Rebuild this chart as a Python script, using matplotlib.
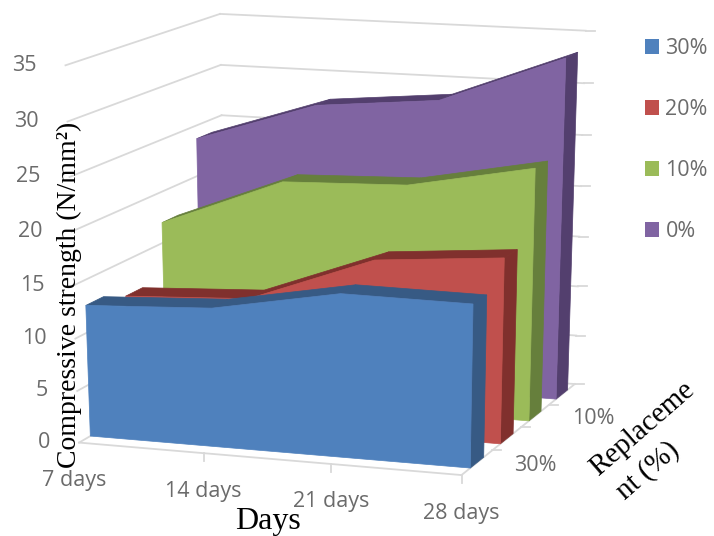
import numpy as np
import matplotlib
matplotlib.use('Agg')
import matplotlib.pyplot as plt
from matplotlib.patches import Polygon, Patch

days = ['7 days', '14 days', '21 days', '28 days']
value_ticks = [0, 5, 10, 15, 20, 25, 30, 35]
depth_labels = ['30%', '', '10%', '']

strength_30 = [12.6, 13.2, 15.4, 15.3]
strength_20 = [11.6, 12.2, 16.7, 17.7]
strength_10 = [17.0, 21.7, 22.1, 24.4]
strength_0 = [23.7, 27.6, 28.7, 33.3]

# back to front
series = [('0%', strength_0, '#8064A2', '#533F6E', 3),
          ('10%', strength_10, '#9BBB59', '#667F3C', 2),
          ('20%', strength_20, '#C0504D', '#80302D', 1),
          ('30%', strength_30, '#4F81BD', '#375A84', 0)]

# floor and wall corners: (day, depth, value) -> pixel position
corners = [((0, 0, 0), (80, 440)), ((3, 0, 0), (462, 477)),
           ((3, 4, 0), (575, 382)), ((3, 4, 35), (585, 31)),
           ((0, 4, 35), (222, 13)), ((0, 0, 35), (64, 66)),
           ((0, 4, 0), (224, 360))]


def fit_camera(pairs):
    rows = []
    for (x, y, z), (u, v) in pairs:
        rows.append([x, y, z, 1, 0, 0, 0, 0, -u*x, -u*y, -u*z, -u])
        rows.append([0, 0, 0, 0, x, y, z, 1, -v*x, -v*y, -v*z, -v])
    return np.linalg.svd(np.array(rows, dtype=float))[2][-1].reshape(3, 4)


cam = fit_camera(corners)


def project(x, y, z):
    p = cam @ np.array([x, y, z, 1.0])
    return p[0]/p[2], p[1]/p[2]


fig = plt.figure(figsize=(7.14, 5.36), dpi=100)
ax = fig.add_axes([0, 0, 1, 1])
ax.set_xlim(0, 714)
ax.set_ylim(536, 0)
ax.axis('off')

grid = '#D9D9D9'
label_color = '#6B6B6B'
label_size = 15.5


def line3d(a, b):
    pa, pb = project(*a), project(*b)
    ax.plot([pa[0], pb[0]], [pa[1], pb[1]], color=grid, lw=1.3, zorder=1)


# walls and floor
for v in value_ticks:
    line3d((0, 0, v), (0, 4, v))
    line3d((0, 4, v), (3, 4, v))
    px, py = project(3, 4, v)
    ax.plot([px, px + 9], [py, py], color=grid, lw=1.3, zorder=1)
line3d((0, 0, 0), (3, 0, 0))
line3d((3, 0, 0), (3, 4, 0))

for i in range(4):
    px, py = project(i, 0, 0)
    if i > 0:
        ax.plot([px, px], [py, py + 8], color=grid, lw=1.3, zorder=1)
    ax.text(px + (-5 if i == 0 else 0), py + 38, days[i], fontsize=label_size, color=label_color,
            family='Open Sans', ha='center', va='center')

for d in range(1, 4):
    px, py = project(3, d, 0)
    ax.plot([px, px + 9], [py, py], color=grid, lw=1.3, zorder=1)

for d, lab in enumerate(depth_labels):
    if lab:
        px, py = project(3, d + 0.5, 0)
        ax.text(px + 58, py + 3, lab, fontsize=label_size, color=label_color, family='Open Sans',
                ha='center', va='center')

for v in value_ticks:
    px, py = project(0, 0, v)
    ax.text(px - 29, py, str(v), fontsize=label_size, color=label_color, family='Open Sans',
            ha='right', va='center')

# one slab per replacement level
z = 2
for name, vals, face, dark, slot in series:
    front, back = slot + 0.28, slot + 0.72
    for i in range(3):
        top = [project(i, front, vals[i]), project(i + 1, front, vals[i + 1]),
               project(i + 1, back, vals[i + 1]), project(i, back, vals[i])]
        ax.add_patch(Polygon(top, closed=True, fc=dark, ec=dark, lw=0.5, zorder=z))
    side = [project(3, front, 0), project(3, back, 0),
            project(3, back, vals[3]), project(3, front, vals[3])]
    ax.add_patch(Polygon(side, closed=True, fc=dark, ec=dark, lw=0.5, zorder=z))
    outline = [project(i, front, vals[i]) for i in range(4)]
    outline += [project(3, front, 0), project(0, front, 0)]
    ax.add_patch(Polygon(outline, closed=True, fc=face, ec=face, lw=0.5, zorder=z + 1))
    z += 2

handles = [Patch(fc=s[2], ec='none', label=s[0]) for s in reversed(series)]
ax.legend(handles=handles, loc='upper left', bbox_to_anchor=(645, 38), bbox_transform=ax.transData,
          frameon=False, handlelength=0.65, handleheight=0.65, handletextpad=0.3, labelspacing=1.86,
          prop={'family': 'Open Sans', 'size': label_size}, labelcolor=label_color,
          borderpad=0, borderaxespad=0)

serif = 'Liberation Serif'
ax.text(69, 295, 'Compressive strength (N/mm²)', rotation=90, fontsize=20, family=serif,
        ha='center', va='center', color='black', zorder=20)
ax.text(268, 521, 'Days', fontsize=23, family=serif, ha='center', va='center', color='black')
ax.text(642, 429, 'Replaceme', rotation=41, fontsize=21, family=serif, ha='center',
        va='center', color='black', rotation_mode='anchor')
ax.text(648, 471, 'nt (%)', rotation=41, fontsize=21, family=serif, ha='center',
        va='center', color='black', rotation_mode='anchor')

fig.savefig('out.png', dpi=100)
